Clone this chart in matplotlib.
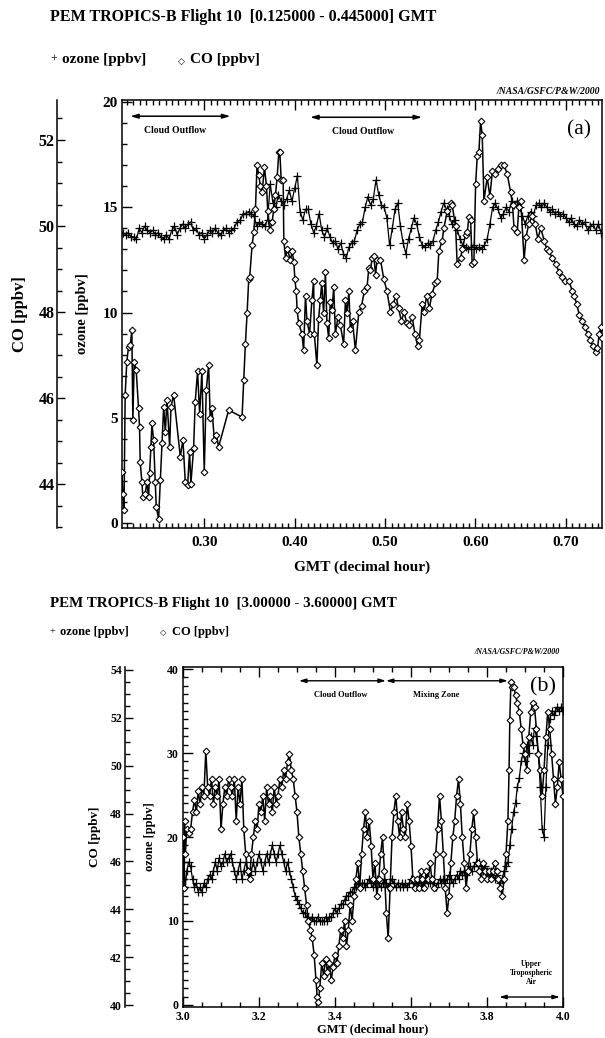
import matplotlib
matplotlib.use("Agg")
import matplotlib.pyplot as plt
from matplotlib.ticker import MultipleLocator, FormatStrFormatter

SERIF = ["Liberation Serif", "DejaVu Serif"]
plt.rcParams["font.family"] = SERIF
plt.rcParams["font.weight"] = "bold"
plt.rcParams["axes.linewidth"] = 1.1

# ---------------- Flight 10, first segment: (GMT hour, ppbv) ----------------
ozone_a = [
    (0.210, 13.8), (0.213, 13.7), (0.216, 13.8), (0.219, 13.6), (0.222, 13.6), (0.225, 13.5),
    (0.228, 14.0), (0.231, 13.8), (0.234, 14.1), (0.237, 13.9), (0.240, 13.8), (0.243, 13.9),
    (0.246, 13.7), (0.249, 13.8), (0.252, 13.6), (0.255, 13.5), (0.258, 13.7), (0.261, 13.5),
    (0.264, 13.9), (0.267, 14.1), (0.270, 13.7), (0.273, 14.0), (0.276, 14.2), (0.279, 14.0),
    (0.282, 14.2), (0.285, 14.3), (0.288, 13.9), (0.291, 14.0), (0.294, 13.7), (0.297, 13.8),
    (0.300, 13.5), (0.303, 13.7), (0.306, 13.9), (0.309, 13.8), (0.312, 14.0), (0.315, 13.8),
    (0.318, 13.7), (0.321, 13.9), (0.324, 14.0), (0.327, 13.8), (0.330, 13.9), (0.333, 14.0),
    (0.336, 14.3), (0.340, 14.4), (0.343, 14.7), (0.346, 14.7), (0.349, 14.8), (0.352, 14.7),
    (0.355, 14.6), (0.358, 14.1), (0.361, 14.3), (0.364, 14.2), (0.367, 14.1), (0.370, 14.4),
    (0.373, 16.1), (0.376, 15.2), (0.379, 15.0), (0.382, 15.6), (0.385, 15.3), (0.388, 15.1),
    (0.391, 15.4), (0.394, 15.8), (0.397, 15.3), (0.400, 15.9), (0.403, 16.5), (0.406, 14.8),
    (0.409, 14.4), (0.412, 14.9), (0.415, 14.9), (0.418, 14.2), (0.421, 13.8), (0.424, 14.1),
    (0.427, 14.7), (0.430, 13.9), (0.433, 13.6), (0.436, 14.0), (0.439, 13.6), (0.442, 13.3),
    (0.445, 13.4), (0.448, 13.0), (0.451, 13.3), (0.454, 12.8), (0.457, 12.6), (0.460, 13.1),
    (0.463, 13.3), (0.466, 13.4), (0.469, 13.9), (0.472, 14.2), (0.475, 14.3), (0.478, 15.0),
    (0.481, 15.5), (0.484, 15.1), (0.487, 15.4), (0.490, 16.3), (0.493, 15.6), (0.496, 15.1),
    (0.499, 15.0), (0.502, 14.5), (0.505, 13.2), (0.508, 14.0), (0.511, 14.9), (0.514, 15.2),
    (0.517, 14.1), (0.520, 13.3), (0.523, 12.8), (0.526, 13.5), (0.529, 14.0), (0.532, 14.5),
    (0.535, 14.2), (0.538, 13.6), (0.541, 13.2), (0.544, 13.1), (0.547, 13.3), (0.550, 13.2),
    (0.553, 13.4), (0.556, 13.9), (0.559, 14.3), (0.562, 14.8), (0.565, 15.2), (0.568, 14.9),
    (0.571, 14.6), (0.574, 14.2), (0.577, 14.4), (0.580, 13.9), (0.583, 13.5), (0.586, 13.2),
    (0.589, 13.1), (0.592, 13.0), (0.595, 13.1), (0.598, 13.2), (0.601, 13.0), (0.604, 13.1),
    (0.607, 13.0), (0.610, 13.2), (0.613, 13.5), (0.616, 14.2), (0.619, 15.0), (0.622, 15.2),
    (0.625, 14.9), (0.628, 14.5), (0.631, 14.7), (0.634, 15.0), (0.637, 14.8), (0.640, 15.3),
    (0.643, 15.1), (0.646, 15.3), (0.649, 15.0), (0.652, 14.6), (0.655, 14.2), (0.658, 14.6),
    (0.661, 14.8), (0.664, 14.6), (0.667, 15.1), (0.670, 15.2), (0.673, 15.0), (0.676, 15.2),
    (0.679, 15.0), (0.682, 14.8), (0.685, 14.9), (0.688, 14.7), (0.691, 14.8), (0.694, 14.6),
    (0.697, 14.7), (0.700, 14.5), (0.703, 14.3), (0.706, 14.5), (0.709, 14.2), (0.712, 14.1),
    (0.715, 14.4), (0.718, 14.2), (0.721, 14.3), (0.724, 13.9), (0.727, 14.1), (0.730, 14.2),
    (0.733, 13.9), (0.736, 14.2), (0.739, 13.8),
]

co_a = [
    (0.2088, 44.29), (0.2099, 43.78), (0.2112, 43.41), (0.2125, 46.08), (0.2143, 46.84),
    (0.2162, 47.19), (0.2181, 47.23), (0.2199, 47.58), (0.2210, 45.49), (0.2225, 46.84),
    (0.2247, 46.65), (0.2273, 45.76), (0.2284, 45.33), (0.2291, 44.52), (0.2310, 44.05),
    (0.2321, 43.70), (0.2347, 43.78), (0.2365, 44.05), (0.2384, 43.70), (0.2395, 44.25),
    (0.2410, 44.87), (0.2421, 45.41), (0.2439, 45.03), (0.2458, 44.05), (0.2469, 43.47),
    (0.2495, 43.20), (0.2514, 44.09), (0.2532, 44.95), (0.2551, 45.80), (0.2569, 45.22),
    (0.2588, 45.96), (0.2617, 44.87), (0.2632, 45.80), (0.2661, 46.08), (0.2735, 44.64),
    (0.2764, 45.03), (0.2790, 44.05), (0.2816, 43.97), (0.2837, 44.75), (0.2852, 44.01),
    (0.2882, 44.83), (0.2900, 45.92), (0.2926, 46.62), (0.2949, 45.64), (0.2974, 46.62),
    (0.3000, 44.29), (0.3022, 46.18), (0.3048, 46.77), (0.3066, 45.53), (0.3085, 45.76),
    (0.3111, 45.03), (0.3133, 45.15), (0.3159, 44.87), (0.3270, 45.72), (0.3418, 45.56),
    (0.3437, 46.42), (0.3455, 47.26), (0.3474, 47.97), (0.3492, 48.77), (0.3503, 48.82),
    (0.3529, 49.56), (0.3548, 49.85), (0.3566, 50.39), (0.3584, 51.42), (0.3603, 51.18),
    (0.3621, 50.93), (0.3640, 50.78), (0.3666, 51.37), (0.3688, 50.93), (0.3703, 50.34),
    (0.3725, 49.90), (0.3751, 50.10), (0.3769, 50.39), (0.3788, 50.73), (0.3806, 51.13),
    (0.3825, 51.71), (0.3836, 51.71), (0.3851, 51.08), (0.3873, 51.08), (0.3880, 49.66),
    (0.3899, 49.26), (0.3917, 49.46), (0.3954, 49.22), (0.3973, 49.41), (0.3991, 49.17),
    (0.4002, 48.77), (0.4017, 48.48), (0.4028, 48.04), (0.4043, 47.75), (0.4080, 47.50),
    (0.4099, 47.11), (0.4120, 48.38), (0.4136, 47.79), (0.4165, 47.50), (0.4191, 48.28),
    (0.4210, 48.73), (0.4217, 47.50), (0.4246, 46.77), (0.4265, 47.84), (0.4283, 48.28),
    (0.4300, 48.68), (0.4320, 47.97), (0.4340, 48.92), (0.4357, 47.75), (0.4376, 47.40),
    (0.4395, 48.24), (0.4413, 48.04), (0.4432, 48.58), (0.4450, 47.50), (0.4480, 47.89),
    (0.4505, 47.70), (0.4542, 47.26), (0.4562, 48.28), (0.4579, 47.97), (0.4600, 48.48),
    (0.4616, 47.60), (0.4640, 47.79), (0.4672, 47.11), (0.4709, 47.99), (0.4740, 48.14),
    (0.4770, 48.48), (0.4801, 48.58), (0.4820, 49.02), (0.4838, 48.97), (0.4857, 49.26),
    (0.4875, 49.31), (0.4895, 48.87), (0.4912, 49.22), (0.4949, 49.22), (0.4986, 48.77),
    (0.5022, 48.48), (0.5060, 47.99), (0.5090, 48.19), (0.5120, 48.38), (0.5150, 48.09),
    (0.5180, 47.79), (0.5210, 47.99), (0.5240, 47.75), (0.5270, 47.70), (0.5300, 47.89),
    (0.5330, 47.50), (0.5360, 47.21), (0.5380, 47.35), (0.5411, 48.19), (0.5430, 47.99),
    (0.5460, 48.38), (0.5490, 48.09), (0.5520, 48.43), (0.5558, 48.68), (0.5577, 48.73),
    (0.5595, 49.41), (0.5632, 49.66), (0.5650, 49.95), (0.5688, 50.34), (0.5725, 50.54),
    (0.5742, 50.49), (0.5780, 50.00), (0.5798, 49.12), (0.5835, 49.26), (0.5854, 49.46),
    (0.5891, 49.80), (0.5909, 49.85), (0.5928, 50.20), (0.5946, 50.15), (0.5964, 49.12),
    (0.5983, 49.17), (0.6002, 50.98), (0.6020, 51.62), (0.6038, 51.71), (0.6057, 52.45),
    (0.6075, 52.11), (0.6094, 50.59), (0.6130, 51.13), (0.6160, 50.69), (0.6187, 51.27),
    (0.6220, 51.22), (0.6250, 51.32), (0.6279, 51.42), (0.6316, 51.42), (0.6350, 51.22),
    (0.6390, 50.78), (0.6410, 50.49), (0.6427, 49.95), (0.6462, 49.85), (0.6480, 50.44),
    (0.6501, 50.59), (0.6538, 49.22), (0.6560, 49.75), (0.6590, 50.05), (0.6630, 50.24),
    (0.6660, 50.05), (0.6690, 49.71), (0.6723, 49.95), (0.6760, 49.66), (0.6790, 49.46),
    (0.6815, 49.41), (0.6850, 49.26), (0.6890, 49.12), (0.6926, 48.92), (0.6960, 48.82),
    (0.6990, 48.73), (0.7037, 48.73), (0.7070, 48.48), (0.7093, 48.38), (0.7120, 48.19),
    (0.7148, 47.94), (0.7180, 47.79), (0.7210, 47.65), (0.7240, 47.50), (0.7270, 47.35),
    (0.7300, 47.21), (0.7330, 47.06), (0.7350, 47.16), (0.7370, 47.50), (0.7390, 47.65),
    (0.7400, 47.40),
]

# ---------------- Flight 10, second segment: (GMT hour, ppbv) ----------------
ozone_b = [
    (3.000, 15.0), (3.003, 17.0), (3.006, 14.0), (3.010, 16.0), (3.015, 17.0), (3.020, 16.5),
    (3.025, 15.0), (3.030, 14.0), (3.035, 14.5), (3.040, 13.5), (3.045, 14.0), (3.050, 13.5),
    (3.055, 14.5), (3.060, 14.0), (3.065, 15.0), (3.070, 15.5), (3.075, 15.0), (3.080, 16.0),
    (3.085, 17.0), (3.090, 16.0), (3.095, 17.5), (3.100, 16.5), (3.105, 17.0), (3.110, 18.0),
    (3.115, 17.0), (3.120, 17.5), (3.125, 18.0), (3.130, 17.0), (3.135, 16.0), (3.140, 15.0),
    (3.145, 16.0), (3.150, 17.0), (3.155, 15.0), (3.160, 16.0), (3.165, 17.0), (3.170, 16.0),
    (3.175, 15.5), (3.180, 16.0), (3.185, 17.0), (3.190, 16.0), (3.195, 17.0), (3.200, 18.0),
    (3.205, 17.0), (3.210, 16.0), (3.215, 17.0), (3.220, 18.0), (3.225, 17.0), (3.230, 18.0),
    (3.235, 19.0), (3.240, 18.0), (3.245, 17.0), (3.250, 18.0), (3.255, 19.0), (3.260, 18.0),
    (3.265, 17.0), (3.270, 16.0), (3.275, 17.0), (3.280, 16.0), (3.285, 15.0), (3.290, 14.0),
    (3.295, 13.0), (3.300, 12.5), (3.305, 12.0), (3.310, 11.5), (3.315, 11.0), (3.320, 11.0),
    (3.325, 10.5), (3.330, 10.5), (3.335, 10.0), (3.340, 10.5), (3.345, 10.0), (3.350, 10.0),
    (3.355, 10.5), (3.360, 10.0), (3.365, 10.0), (3.370, 10.0), (3.375, 10.5), (3.380, 10.0),
    (3.385, 10.5), (3.390, 10.5), (3.395, 11.0), (3.400, 11.5), (3.405, 11.0), (3.410, 11.5),
    (3.415, 12.0), (3.420, 12.0), (3.425, 12.5), (3.430, 13.0), (3.435, 13.0), (3.440, 13.5),
    (3.445, 13.5), (3.450, 14.0), (3.455, 14.0), (3.460, 14.5), (3.465, 14.0), (3.470, 14.5),
    (3.475, 14.5), (3.480, 14.0), (3.485, 14.5), (3.490, 15.0), (3.495, 14.5), (3.500, 14.0),
    (3.505, 14.5), (3.510, 15.0), (3.515, 14.5), (3.520, 14.0), (3.525, 14.5), (3.530, 15.0),
    (3.535, 14.5), (3.540, 14.0), (3.545, 14.5), (3.550, 15.0), (3.555, 14.5), (3.560, 14.0),
    (3.565, 14.5), (3.570, 14.0), (3.575, 14.5), (3.580, 14.0), (3.585, 14.5), (3.590, 14.0),
    (3.595, 14.5), (3.600, 15.0), (3.605, 14.5), (3.610, 14.0), (3.615, 14.5), (3.620, 15.0),
    (3.625, 14.5), (3.630, 14.0), (3.635, 14.5), (3.640, 15.0), (3.645, 14.5), (3.650, 14.5),
    (3.655, 15.0), (3.660, 14.5), (3.665, 14.0), (3.670, 14.5), (3.675, 15.0), (3.680, 14.5),
    (3.685, 15.0), (3.690, 14.5), (3.695, 15.0), (3.700, 15.5), (3.705, 15.0), (3.710, 14.5),
    (3.715, 15.0), (3.720, 15.5), (3.725, 15.0), (3.730, 16.0), (3.735, 15.5), (3.740, 16.0),
    (3.745, 15.5), (3.750, 16.0), (3.755, 16.5), (3.760, 16.0), (3.765, 16.5), (3.770, 17.0),
    (3.775, 16.5), (3.780, 17.0), (3.785, 16.5), (3.790, 16.0), (3.795, 16.5), (3.800, 16.0),
    (3.805, 15.5), (3.810, 16.0), (3.815, 15.5), (3.820, 15.0), (3.825, 15.5), (3.830, 15.0),
    (3.835, 14.5), (3.840, 15.0), (3.845, 16.0), (3.850, 16.5), (3.855, 17.0), (3.860, 19.0),
    (3.865, 21.0), (3.870, 23.0), (3.875, 24.0), (3.880, 26.0), (3.885, 27.0), (3.890, 29.0),
    (3.895, 30.0), (3.900, 29.0), (3.905, 31.0), (3.910, 30.0), (3.915, 32.0), (3.920, 31.0),
    (3.925, 33.0), (3.930, 32.0), (3.935, 30.0), (3.940, 26.0), (3.945, 21.0), (3.950, 20.0),
    (3.955, 26.0), (3.960, 31.0), (3.965, 34.0), (3.970, 35.0), (3.975, 34.5), (3.980, 35.0),
    (3.985, 35.5), (3.990, 35.0), (3.995, 35.5), (4.000, 35.0),
]

co_b = [
    (3.000, 47.00), (3.002, 44.90), (3.004, 47.70), (3.006, 46.30), (3.010, 47.35), (3.015, 47.18),
    (3.020, 47.35), (3.025, 48.05), (3.030, 48.58), (3.035, 48.05), (3.040, 48.93), (3.045, 48.40),
    (3.050, 49.10), (3.055, 48.75), (3.060, 50.61), (3.065, 49.10), (3.070, 48.75), (3.075, 49.45),
    (3.080, 48.40), (3.085, 49.10), (3.090, 48.75), (3.095, 49.45), (3.100, 47.35), (3.105, 48.40),
    (3.110, 49.10), (3.115, 48.75), (3.120, 49.45), (3.125, 49.10), (3.130, 48.75), (3.135, 49.45),
    (3.140, 47.70), (3.145, 49.10), (3.150, 48.40), (3.155, 49.45), (3.160, 47.35), (3.165, 46.30),
    (3.170, 45.60), (3.175, 45.25), (3.180, 46.30), (3.185, 47.00), (3.190, 47.70), (3.195, 47.35),
    (3.200, 48.40), (3.205, 48.05), (3.210, 48.75), (3.215, 47.70), (3.220, 49.10), (3.225, 48.40),
    (3.230, 48.75), (3.235, 48.05), (3.240, 49.10), (3.245, 48.40), (3.250, 48.75), (3.255, 49.45),
    (3.260, 49.10), (3.265, 49.80), (3.270, 49.45), (3.275, 50.15), (3.280, 50.50), (3.285, 49.80),
    (3.290, 49.45), (3.295, 48.75), (3.300, 48.05), (3.305, 47.00), (3.310, 46.30), (3.315, 45.60),
    (3.320, 44.90), (3.325, 44.20), (3.330, 43.50), (3.335, 43.15), (3.340, 42.80), (3.345, 42.10),
    (3.350, 41.05), (3.353, 40.35), (3.356, 40.11), (3.360, 40.70), (3.365, 41.75), (3.370, 41.23),
    (3.375, 41.93), (3.380, 41.40), (3.385, 41.75), (3.390, 41.05), (3.395, 41.58), (3.400, 42.10),
    (3.405, 41.75), (3.410, 42.45), (3.415, 43.15), (3.420, 42.80), (3.425, 43.50), (3.430, 42.45),
    (3.435, 43.15), (3.440, 44.20), (3.445, 43.50), (3.450, 44.55), (3.455, 45.25), (3.460, 45.95),
    (3.465, 44.90), (3.470, 46.30), (3.475, 47.35), (3.480, 48.05), (3.485, 47.00), (3.490, 47.70),
    (3.495, 46.65), (3.500, 45.25), (3.505, 45.95), (3.510, 44.55), (3.515, 45.25), (3.520, 46.30),
    (3.525, 47.00), (3.530, 45.60), (3.535, 43.85), (3.540, 42.80), (3.545, 44.90), (3.550, 47.00),
    (3.555, 48.05), (3.560, 48.75), (3.565, 47.70), (3.570, 47.00), (3.575, 48.05), (3.580, 47.35),
    (3.585, 47.00), (3.590, 48.40), (3.595, 47.70), (3.600, 46.65), (3.605, 45.25), (3.610, 44.90),
    (3.615, 45.25), (3.620, 44.90), (3.625, 45.60), (3.630, 45.25), (3.635, 44.90), (3.640, 45.60),
    (3.645, 45.25), (3.650, 45.95), (3.655, 45.25), (3.660, 44.90), (3.665, 46.30), (3.670, 47.35),
    (3.675, 48.75), (3.680, 47.70), (3.685, 46.30), (3.690, 44.90), (3.695, 43.85), (3.700, 44.55),
    (3.705, 45.95), (3.710, 47.00), (3.715, 47.70), (3.720, 48.75), (3.725, 49.45), (3.730, 48.40),
    (3.735, 47.00), (3.740, 45.95), (3.745, 44.90), (3.750, 45.60), (3.755, 46.30), (3.760, 47.35),
    (3.765, 48.05), (3.770, 47.00), (3.775, 45.95), (3.780, 45.60), (3.785, 45.25), (3.790, 45.95),
    (3.795, 45.60), (3.800, 45.25), (3.805, 45.60), (3.810, 45.25), (3.815, 45.60), (3.820, 45.95),
    (3.825, 45.60), (3.830, 45.25), (3.835, 44.90), (3.840, 44.55), (3.845, 45.25), (3.850, 46.30),
    (3.855, 47.70), (3.858, 49.80), (3.860, 51.90), (3.863, 53.48), (3.866, 53.30), (3.870, 53.30),
    (3.875, 52.95), (3.880, 52.60), (3.885, 52.25), (3.890, 51.55), (3.895, 50.85), (3.900, 50.50),
    (3.905, 49.80), (3.910, 51.20), (3.915, 52.25), (3.920, 52.60), (3.925, 52.43), (3.930, 51.55),
    (3.935, 50.50), (3.940, 49.80), (3.945, 48.75), (3.950, 49.80), (3.955, 51.20), (3.960, 52.25),
    (3.965, 51.55), (3.970, 50.50), (3.975, 49.45), (3.980, 48.40), (3.985, 49.10), (3.990, 50.15),
    (3.995, 49.45), (4.000, 48.75),
]

FIG_W, FIG_H = 605, 1038


def fx(px):
    return px / FIG_W


def fy(py):
    return 1 - py / FIG_H


def unzip(pairs):
    return [p[0] for p in pairs], [p[1] for p in pairs]


fig = plt.figure(figsize=(FIG_W / 100, FIG_H / 100), dpi=100)

OZ_STYLE = dict(color="black", lw=0.9, marker="+", ms=5.5, mew=0.9)
CO_STYLE = dict(color="black", lw=1.1, marker="D", ms=3.4, mew=0.8, mfc="white", mec="black")


def build_panel(rect, xlim, oz_lim, co_lim, co_offset, x_major, x_minor, x_fmt,
                oz_major, oz_minor, co_major, co_minor, tick_fs, co_fs, lab_oz_fs, lab_co_fs,
                oz_lab_x, co_lab_x, xlab_y, xlab_fs, xpad):
    ax = fig.add_axes(rect)
    ax.set_xlim(*xlim)
    ax.set_ylim(*oz_lim)
    ax.xaxis.set_major_locator(MultipleLocator(x_major))
    ax.xaxis.set_minor_locator(MultipleLocator(x_minor))
    ax.xaxis.set_major_formatter(FormatStrFormatter(x_fmt))
    ax.yaxis.set_major_locator(MultipleLocator(oz_major))
    ax.yaxis.set_minor_locator(MultipleLocator(oz_minor))
    ax.tick_params(which="both", direction="in", top=True, right=True, width=1.0,
                   labelsize=tick_fs)
    ax.tick_params(which="major", length=7)
    ax.tick_params(which="minor", length=3.5)
    ax.tick_params(axis="x", pad=xpad)
    ax.tick_params(axis="y", pad=3)
    ax.set_ylabel("ozone [ppbv]", fontsize=lab_oz_fs, fontweight="bold")
    ax.yaxis.set_label_coords(oz_lab_x, 0.5)
    ax.set_xlabel("GMT (decimal hour)", fontsize=xlab_fs, fontweight="bold")
    ax.xaxis.set_label_coords(0.5, xlab_y)

    co = ax.twinx()
    co.set_ylim(*co_lim)
    co.yaxis.tick_left()
    co.yaxis.set_label_position("left")
    co.spines["left"].set_position(("axes", co_offset))
    for side in ("right", "top", "bottom"):
        co.spines[side].set_visible(False)
    co.yaxis.set_major_locator(MultipleLocator(co_major))
    co.yaxis.set_minor_locator(MultipleLocator(co_minor))
    co.tick_params(which="both", direction="in", left=True, right=False, width=1.0,
                   labelsize=co_fs, pad=2)
    co.tick_params(which="major", length=6)
    co.tick_params(which="minor", length=3.5)
    co.set_ylabel("CO [ppbv]", fontsize=lab_co_fs, fontweight="bold")
    co.yaxis.set_label_coords(co_lab_x, 0.5)
    return ax, co


# ---------------- panel (a) ----------------
ax_a, co_ax_a = build_panel(
    rect=[fx(122), fy(528), fx(602) - fx(122), fy(100) - fy(528)],
    xlim=(0.209, 0.740), oz_lim=(-0.24, 20.1), co_lim=(42.98, 52.93), co_offset=-0.135,
    x_major=0.1, x_minor=0.1 / 14, x_fmt="%.2f",
    oz_major=5, oz_minor=1, co_major=2, co_minor=0.5,
    tick_fs=11, co_fs=11.5, lab_oz_fs=10.5, lab_co_fs=12,
    oz_lab_x=-0.068, co_lab_x=-0.195, xlab_y=-0.075, xlab_fs=11, xpad=6)

t, v = unzip(ozone_a)
ax_a.plot(t, v, **OZ_STYLE)
t, v = unzip(co_a)
co_ax_a.plot(t, v, **CO_STYLE)

ARROW = dict(arrowstyle="<|-|>,head_length=0.45,head_width=0.13", lw=1.1, color="black",
             shrinkA=0, shrinkB=0)
ax_a.annotate("", xy=(0.329, 19.33), xytext=(0.218, 19.33), arrowprops=ARROW)
ax_a.text(0.268, 18.65, "Cloud Outflow", fontsize=7, ha="center", va="center")
ax_a.annotate("", xy=(0.541, 19.28), xytext=(0.417, 19.28), arrowprops=ARROW)
ax_a.text(0.476, 18.6, "Cloud Outflow", fontsize=7, ha="center", va="center")
ax_a.text(0.715, 18.7, "(a)", fontsize=15.5, fontweight="normal", ha="center", va="center")

# ---------------- panel (b) ----------------
ax_b, co_ax_b = build_panel(
    rect=[fx(183), fy(1007), fx(563) - fx(183), fy(667) - fy(1007)],
    xlim=(3.0, 4.0), oz_lim=(-0.24, 40.24), co_lim=(39.92, 54.12), co_offset=-0.153,
    x_major=0.2, x_minor=0.05, x_fmt="%.1f",
    oz_major=10, oz_minor=1, co_major=2, co_minor=0.5,
    tick_fs=8.5, co_fs=8.5, lab_oz_fs=9, lab_co_fs=9.5,
    oz_lab_x=-0.07, co_lab_x=-0.217, xlab_y=-0.047, xlab_fs=9, xpad=3)

t, v = unzip(ozone_b)
ax_b.plot(t, v, **OZ_STYLE)
t, v = unzip(co_b)
co_ax_b.plot(t, v, **CO_STYLE)

ARROW_B = dict(arrowstyle="<|-|>,head_length=0.4,head_width=0.12", lw=1.0, color="black",
               shrinkA=0, shrinkB=0)
ax_b.annotate("", xy=(3.534, 38.6), xytext=(3.305, 38.6), arrowprops=ARROW_B)
ax_b.annotate("", xy=(3.855, 38.6), xytext=(3.534, 38.6), arrowprops=ARROW_B)
ax_b.text(3.416, 36.9, "Cloud Outflow", fontsize=6, ha="center", va="center")
ax_b.text(3.666, 36.9, "Mixing Zone", fontsize=6, ha="center", va="center")
ax_b.text(3.947, 37.9, "(b)", fontsize=16, fontweight="normal", ha="center", va="center")
ax_b.annotate("", xy=(3.992, 0.95), xytext=(3.832, 0.95), arrowprops=ARROW_B)
ax_b.text(3.916, 3.8, "Upper\nTropospheric\nAir", fontsize=5.5, ha="center", va="center",
          linespacing=1.15)

# ---------------- headings ----------------
fig.text(fx(50), fy(17), "PEM TROPICS-B Flight 10  [0.125000 - 0.445000] GMT",
         fontsize=11.5, fontweight="bold", va="center", ha="left")
fig.text(fx(50), fy(60), "+", fontsize=8.5, fontweight="normal", va="center", ha="left")
fig.text(fx(62), fy(60), "ozone [ppbv]", fontsize=11, fontweight="bold", va="center", ha="left")
fig.text(fx(178), fy(61), "\u25c7", fontsize=6.5, fontweight="normal", va="center", ha="left",
         family=["DejaVu Sans"])
fig.text(fx(190), fy(60), "CO [ppbv]", fontsize=11, fontweight="bold", va="center", ha="left")
fig.text(fx(600), fy(92), "/NASA/GSFC/P&W/2000", fontsize=7, fontweight="bold",
         style="italic", va="center", ha="right")

fig.text(fx(50), fy(604), "PEM TROPICS-B Flight 10  [3.00000 - 3.60000] GMT",
         fontsize=10.8, fontweight="bold", va="center", ha="left")
fig.text(fx(50), fy(632), "+", fontsize=7.5, fontweight="normal", va="center", ha="left")
fig.text(fx(60), fy(632), "ozone [ppbv]", fontsize=9, fontweight="bold", va="center", ha="left")
fig.text(fx(160), fy(633), "\u25c7", fontsize=6, fontweight="normal", va="center", ha="left",
         family=["DejaVu Sans"])
fig.text(fx(172), fy(632), "CO [ppbv]", fontsize=9, fontweight="bold", va="center", ha="left")
fig.text(fx(560), fy(652), "/NASA/GSFC/P&W/2000", fontsize=5.8, fontweight="bold",
         style="italic", va="center", ha="right")

fig.savefig("out.png", dpi=100)
